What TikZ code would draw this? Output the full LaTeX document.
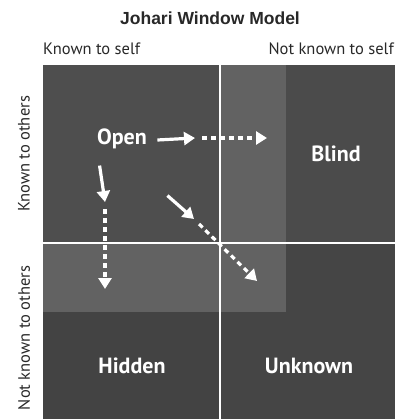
\documentclass[tikz,border=0pt]{standalone}
\usepackage{fontspec}
\usepackage{tikz}
\usetikzlibrary{arrows.meta,positioning,calc}
\setmainfont{PT Sans}
\newfontfamily\titlefont{Liberation Sans}
\definecolor{openfill}{RGB}{78,78,78}
\definecolor{growfill}{RGB}{98,98,98}
\definecolor{blindfill}{RGB}{75,75,75}
\definecolor{hiddenfill}{RGB}{67,67,67}
\definecolor{unknownfill}{RGB}{69,69,69}
\definecolor{axistext}{RGB}{40,40,40}
\tikzset{pane/.style={text=white,font=\fontsize{22}{26}\selectfont\bfseries},axis/.style={text=axistext,font=\fontsize{16.5}{19}\selectfont,inner sep=0pt},edge/.style={-{Triangle[length=11pt,width=13pt]},white,line width=3.2pt},gridline/.style={white,line width=2pt},flow/.style={edge,dash pattern=on 5pt off 4pt}}

\begin{document}
\begin{tikzpicture}[x=1pt,y=-1pt]
\useasboundingbox (0,0) rectangle (395,419);
\fill[blindfill] (220,65) rectangle (395,243);
\fill[hiddenfill] (43,243) rectangle (220,419);
\fill[unknownfill] (220,243) rectangle (395,419);
\fill[growfill] (43,65) rectangle (286,312);
\fill[openfill] (43,65) rectangle (220,243);
\draw[gridline] (220,65) -- (220,419);
\draw[gridline] (43,243) -- (395,243);
\node[font=\titlefont\fontsize{17.5}{20}\selectfont\bfseries,text=axistext] (title) at (210,18) {Johari Window Model};
\node[axis,anchor=west] (selfknown) at (43,49) {Known to self};
\node[axis,anchor=east] (selfnot) at (394,49) {Not known to self};
\node[axis,rotate=90] (othersknown) at (24,154) {Known to others};
\node[axis,rotate=90] (othersnot) at (24,338) {Not known to others};
\node[pane] (open) at (122,139) {Open};
\node[pane] (blind) at (336,154) {Blind};
\node[pane] (hidden) at (132,366) {Hidden};
\node[pane] (unknown) at (309,366) {Unknown};
\coordinate (rightmid) at (195,138);
\coordinate (rightend) at (267,138);
\coordinate (downmid) at (105,202);
\coordinate (downend) at (105,289);
\coordinate (diagmid) at (194,219);
\coordinate (diagend) at (257,281);
\draw[edge] ([xshift=7pt,yshift=-1pt]open.east) -- (rightmid);
\draw[flow] ([xshift=7pt]rightmid) -- (rightend);
\draw[edge] ([xshift=6pt,yshift=-13pt]open.south west) -- (downmid);
\draw[flow] ([yshift=-7pt]downmid) -- (downend);
\draw[edge] ($(open.south east)+(17,43)$) -- (diagmid);
\draw[flow] ($(diagmid)+(5,5)$) -- (diagend);
\end{tikzpicture}
\end{document}
